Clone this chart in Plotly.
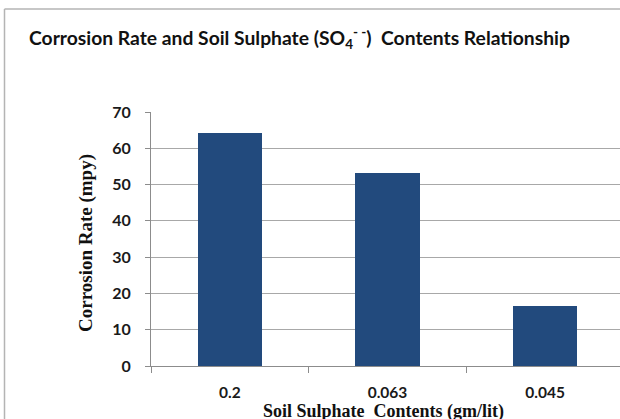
import plotly.graph_objects as go

# Chart data
categories = ["0.2", "0.063", "0.045"]
corrosion_rate = [64.3, 53.3, 16.4]
y_ticks = [0, 10, 20, 30, 40, 50, 60, 70]

W, H = 620, 419
L, R, T, B = 151, 0, 112, 53
plot_w = W - L - R

def px_to_paper_x(px):
    return (px - L) / plot_w

def px_to_paper_y(py):
    return (H - B - py) / (H - T - B)

fig = go.Figure()
fig.add_trace(go.Bar(
    x=categories,
    y=corrosion_rate,
    width=0.41,
    marker=dict(color="#224a7d", line=dict(width=0)),
    hoverinfo="x+y",
))

sans = "Lato, Calibri, sans-serif"
serif = "Liberation Serif, Times New Roman, serif"

fig.update_layout(
    width=W, height=H,
    margin=dict(l=L, r=R, t=T, b=B, pad=0),
    paper_bgcolor="white",
    plot_bgcolor="white",
    showlegend=False,
    bargap=0,
    xaxis=dict(
        type="category",
        range=[-0.5, 2.5 - 4 / 157.67],
        showgrid=False,
        showline=True, linecolor="#8c8c8c", linewidth=1,
        ticks="outside", tickson="boundaries", ticklen=6, tickcolor="#8c8c8c",
        ticklabelstandoff=12,
        tickfont=dict(family=sans, size=15.5, color="#1a1a1a", weight="bold"),
        zeroline=False,
        fixedrange=True,
    ),
    yaxis=dict(
        range=[0, 70],
        tickvals=y_ticks,
        showgrid=True, gridcolor="#a8a8a8", gridwidth=1,
        showline=True, linecolor="#8c8c8c", linewidth=1,
        ticks="outside", ticklen=5, tickcolor="#8c8c8c",
        ticklabelstandoff=11,
        tickfont=dict(family=sans, size=16, color="#1a1a1a", weight="bold"),
        zeroline=False,
        fixedrange=True,
    ),
    font=dict(family=sans),
)

# Chart title
fig.add_annotation(
    text="Corrosion Rate and Soil Sulphate (SO<sub>4</sub><sup>- -</sup>)&nbsp; Contents Relationship",
    xref="paper", yref="paper",
    x=px_to_paper_x(27), y=px_to_paper_y(38),
    xanchor="left", yanchor="middle",
    showarrow=False,
    font=dict(family=sans, size=19.3, color="#111111", weight="bold"),
)

# Axis titles
fig.add_annotation(
    text="Corrosion Rate (mpy)",
    xref="paper", yref="paper",
    x=px_to_paper_x(86), y=px_to_paper_y(243),
    xanchor="center", yanchor="middle",
    textangle=-90,
    showarrow=False,
    font=dict(family=serif, size=19, color="#111111", weight="bold"),
)
fig.add_annotation(
    text="Soil Sulphate&nbsp; Contents (gm/lit)",
    xref="paper", yref="paper",
    x=px_to_paper_x(383), y=px_to_paper_y(411),
    xanchor="center", yanchor="middle",
    showarrow=False,
    font=dict(family=serif, size=18, color="#111111", weight="bold"),
)

# Chart area frame (left and top edges)
frame_color = "#b4b4b4"
fig.add_shape(type="line", xref="paper", yref="paper",
              x0=px_to_paper_x(4.5), x1=px_to_paper_x(4.5),
              y0=px_to_paper_y(9), y1=px_to_paper_y(425),
              line=dict(color=frame_color, width=1.5))
fig.add_shape(type="line", xref="paper", yref="paper",
              x0=px_to_paper_x(4.5), x1=px_to_paper_x(625),
              y0=px_to_paper_y(9), y1=px_to_paper_y(9),
              line=dict(color=frame_color, width=1.5))

fig.write_html("out.html", config={"displayModeBar": False})
